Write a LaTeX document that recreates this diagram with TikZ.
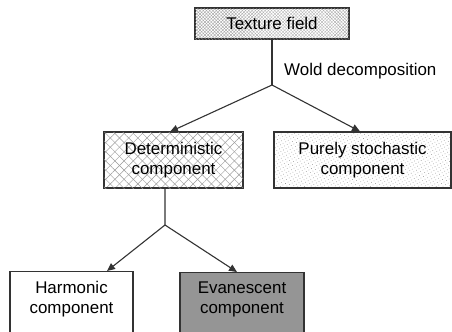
\documentclass[tikz,border=0pt]{standalone}
\usepackage{fontspec}
\setmainfont{Liberation Sans}
\usetikzlibrary{arrows.meta,patterns.meta,calc}
\definecolor{edge}{HTML}{333333}
\definecolor{evgray}{HTML}{959595}
\definecolor{patgray}{HTML}{9A9A9A}
\tikzset{
  box/.style={draw=edge, line width=1.2bp, rectangle, inner sep=0pt, align=center,
    font=\fontsize{17}{20}\selectfont},
  lbl/.style={align=center, inner sep=0pt, font=\fontsize{17}{20}\selectfont},
  conn/.style={draw=edge, line width=1.1bp},
  arr/.style={conn, -{Triangle[length=8bp,width=7bp]}},
  finehatch/.style={pattern={Lines[angle=45,distance=2.3bp,line width=0.3bp]}, pattern color=patgray,
    postaction={pattern={Lines[angle=-45,distance=2.3bp,line width=0.3bp]}, pattern color=patgray}},
  bighatch/.style={pattern={Lines[angle=45,distance=6.5bp,line width=0.45bp]}, pattern color=patgray,
    postaction={pattern={Lines[angle=-45,distance=6.5bp,line width=0.45bp]}, pattern color=patgray}},
  dotty/.style={pattern={Dots[distance=3bp,radius=0.45bp,angle=30]}, pattern color=patgray},
}
\begin{document}
\begin{tikzpicture}[x=1bp,y=-1bp]
\useasboundingbox (0,0) rectangle (452,331);
\clip (0,0) rectangle (452,331);
\fill[white] (0,0) rectangle (452,331);
% nodes
\node[box, finehatch, minimum width=154bp, minimum height=31bp] (tex) at (272,23.5) {Texture field};
\node[box, bighatch, minimum width=139bp, minimum height=56bp] (det) at (173.5,160) {Deterministic\\component};
\node[box, dotty, minimum width=177bp, minimum height=56bp] (sto) at (362.5,160) {Purely stochastic\\component};
\node[box, fill=white, minimum width=123bp, minimum height=64bp, anchor=north] (harm) at (71.5,271) {};
\node[box, fill=evgray, minimum width=124bp, minimum height=64bp, anchor=north] (eva) at (242,272) {};
\node[lbl] (harmtxt) at ([yshift=-28bp]harm.north) {Harmonic\\component};
\node[lbl] (evatxt) at ([yshift=-27bp]eva.north) {Evanescent\\component};
\node[lbl, anchor=west] (wold) at (284,71) {Wold decomposition};
% junctions
\coordinate (j1) at (272,85);
\coordinate (j2) at (165,225);
% connectors
\draw[conn] (tex.south) -- (j1);
\draw[arr] (j1) -- ([xshift=-3.5bp]det.north);
\draw[arr] (j1) -- ([xshift=-2.5bp]sto.north);
\draw[conn] ([xshift=-8.5bp]det.south) -- (j2);
\draw[arr] (j2) -- ([xshift=35.5bp]harm.north);
\draw[arr] (j2) -- ([xshift=-5bp]eva.north);
\end{tikzpicture}
\end{document}
